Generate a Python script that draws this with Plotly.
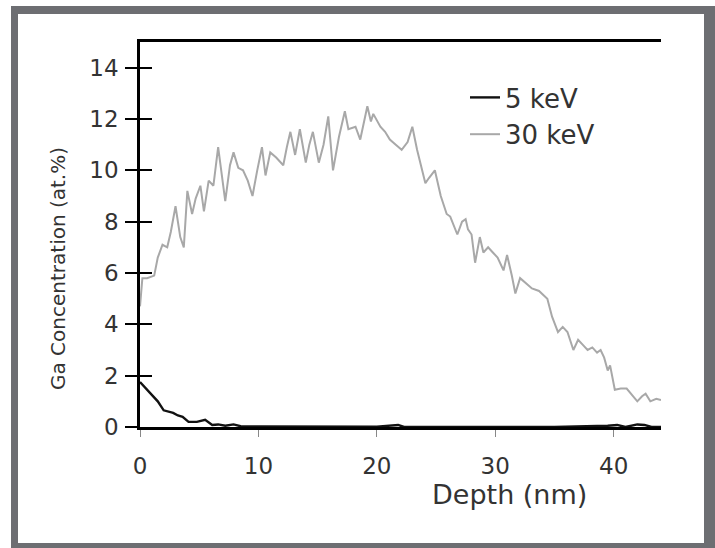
import plotly.graph_objects as go

# ---- data ----
depth_30 = [0.0, 0.2, 0.6, 1.2, 1.5, 1.9, 2.3, 2.6, 3.0, 3.4, 3.7, 4.0, 4.4, 4.7, 5.1, 5.4, 5.8, 6.2,
            6.6, 6.9, 7.2, 7.6, 7.9, 8.3, 8.7, 9.1, 9.5, 9.9, 10.3, 10.6, 11.0, 11.5, 12.1, 12.4, 12.7,
            13.1, 13.5, 14.0, 14.3, 14.6, 15.1, 15.5, 15.9, 16.3, 16.8, 17.3, 17.6, 18.2, 18.6, 19.2,
            19.5, 19.7, 20.3, 20.7, 21.1, 21.6, 22.1, 22.6, 23.0, 23.4, 23.8, 24.1, 24.4, 24.9, 25.4,
            25.9, 26.2, 26.8, 27.2, 27.5, 27.7, 28.0, 28.3, 28.7, 29.0, 29.4, 29.8, 30.2, 30.7, 31.0,
            31.4, 31.7, 32.1, 32.6, 33.1, 33.7, 34.4, 34.8, 35.3, 35.7, 36.1, 36.6, 37.0, 37.4, 37.8,
            38.2, 38.6, 38.9, 39.2, 39.5, 39.7, 40.1, 40.6, 41.1, 41.6, 42.0, 42.4, 42.7, 43.1, 43.6, 44.0]
conc_30 = [4.7, 5.8, 5.8, 5.9, 6.6, 7.1, 7.0, 7.6, 8.6, 7.4, 7.0, 9.2, 8.3, 8.9, 9.4, 8.4, 9.6, 9.4,
           10.9, 9.9, 8.8, 10.2, 10.7, 10.1, 10.0, 9.6, 9.0, 10.0, 10.9, 9.8, 10.7, 10.5, 10.2, 10.9, 11.5,
           10.6, 11.6, 10.3, 11.0, 11.5, 10.3, 11.0, 12.1, 10.0, 11.3, 12.3, 11.6, 11.7, 11.2, 12.5,
           11.9, 12.2, 11.7, 11.5, 11.2, 11.0, 10.8, 11.1, 11.7, 10.8, 10.0, 9.5, 9.7, 10.0, 9.0,
           8.3, 8.2, 7.5, 8.0, 8.1, 7.7, 7.5, 6.4, 7.4, 6.8, 7.0, 6.8, 6.6, 6.1, 6.7,
           5.9, 5.2, 5.8, 5.6, 5.4, 5.3, 5.0, 4.3, 3.7, 3.9, 3.7, 3.0, 3.4, 3.2, 3.0,
           3.1, 2.9, 3.0, 2.7, 2.2, 2.4, 1.45, 1.5, 1.5, 1.2, 1.0, 1.2, 1.3, 1.0, 1.1, 1.05]

depth_5 = [0.0, 0.3, 0.9, 1.5, 2.0, 2.4, 2.8, 3.2, 3.6, 4.1, 4.8, 5.5, 6.1, 6.6, 7.2, 7.9, 8.5, 10.0,
           12.0, 14.0, 16.0, 18.0, 20.0, 21.8, 22.3, 25.0, 30.0, 35.0, 39.5, 40.3, 41.0, 42.0, 42.6,
           43.2, 44.0]
conc_5 = [1.75, 1.6, 1.3, 1.0, 0.65, 0.6, 0.55, 0.45, 0.4, 0.2, 0.2, 0.28, 0.08, 0.1, 0.05, 0.1, 0.03,
          0.02, 0.02, 0.03, 0.02, 0.01, 0.01, 0.08, 0.0, 0.0, 0.0, 0.0, 0.05, 0.08, 0.0, 0.1, 0.08,
          0.0, 0.0]

x_ticks = [0, 10, 20, 30, 40]
y_ticks = [0, 2, 4, 6, 8, 10, 12, 14]
x_title = "Depth (nm)"
y_title = "Ga Concentration (at.%)"
series_names = ["5 keV", "30 keV"]

# ---- layout geometry (pixels) ----
W, H = 715, 548
L, R, T, B = 140, 661, 42, 427
pw, ph = R - L, B - T


def px(xp):
    return (xp - L) / pw


def py(yp):
    return (B - yp) / ph


FONT = "DejaVu Sans"
TXT = "#333333"

fig = go.Figure()
fig.add_trace(go.Scatter(x=depth_5, y=conc_5, mode="lines", name=series_names[0],
                         line=dict(color="#111111", width=2.4)))
fig.add_trace(go.Scatter(x=depth_30, y=conc_30, mode="lines", name=series_names[1],
                         line=dict(color="#a8a8a8", width=2)))
# invisible trace on overlay axis to carry the inward ticks
fig.add_trace(go.Scatter(x=[0], y=[0], yaxis="y2", mode="lines", showlegend=False,
                         line=dict(width=0), hoverinfo="skip"))

fig.update_layout(
    width=W, height=H,
    margin=dict(l=L, r=W - R, t=T, b=H - B),
    paper_bgcolor="white",
    plot_bgcolor="rgba(0,0,0,0)",
    font=dict(family=FONT, color=TXT, size=20),
    showlegend=True,
    legend=dict(x=px(465), y=py(74), xanchor="left", yanchor="top",
                bgcolor="rgba(0,0,0,0)", font=dict(family=FONT, size=26, color=TXT),
                itemwidth=30, tracegroupgap=0),
    xaxis=dict(range=[0, 44], tickvals=x_ticks, ticks="outside", ticklen=7, tickwidth=1,
               tickcolor="#888888", showline=True, linecolor="black", linewidth=2.5,
               mirror=True, showgrid=False, zeroline=False,
               tickfont=dict(family=FONT, size=23, color=TXT), ticklabelstandoff=10),
    yaxis=dict(range=[0, 15], tickvals=y_ticks, ticks="outside", ticklen=12, tickwidth=2,
               tickcolor="black", showline=True, linecolor="black", linewidth=2.5,
               showgrid=False, zeroline=False,
               tickfont=dict(family=FONT, size=23, color=TXT), ticklabelstandoff=2),
    yaxis2=dict(range=[0, 15], tickvals=y_ticks, ticks="inside", ticklen=12, tickwidth=2,
                tickcolor="black", overlaying="y", side="left", showticklabels=False,
                showgrid=False, zeroline=False, showline=False),
)

# frame around the figure
fig.add_shape(type="rect", xref="paper", yref="paper", x0=px(11), x1=px(720), y0=py(6), y1=py(560),
              fillcolor="#6d6e72", line=dict(width=0), layer="below")
fig.add_shape(type="rect", xref="paper", yref="paper", x0=px(18), x1=px(704), y0=py(14), y1=py(543),
              fillcolor="white", line=dict(width=0), layer="below")

# axis titles
fig.add_annotation(text=x_title, xref="paper", yref="paper", x=px(509), y=py(494),
                   xanchor="center", yanchor="middle",
                   showarrow=False, font=dict(family=FONT, size=27, color=TXT))
fig.add_annotation(text=y_title, xref="paper", yref="paper", x=px(58), y=py(269),
                   xanchor="center", yanchor="middle",
                   textangle=-90, showarrow=False, font=dict(family=FONT, size=20, color=TXT))

fig.write_html("out.html", config={"displayModeBar": False},
               post_script="document.body.style.margin='0px';document.body.style.padding='0px';")
